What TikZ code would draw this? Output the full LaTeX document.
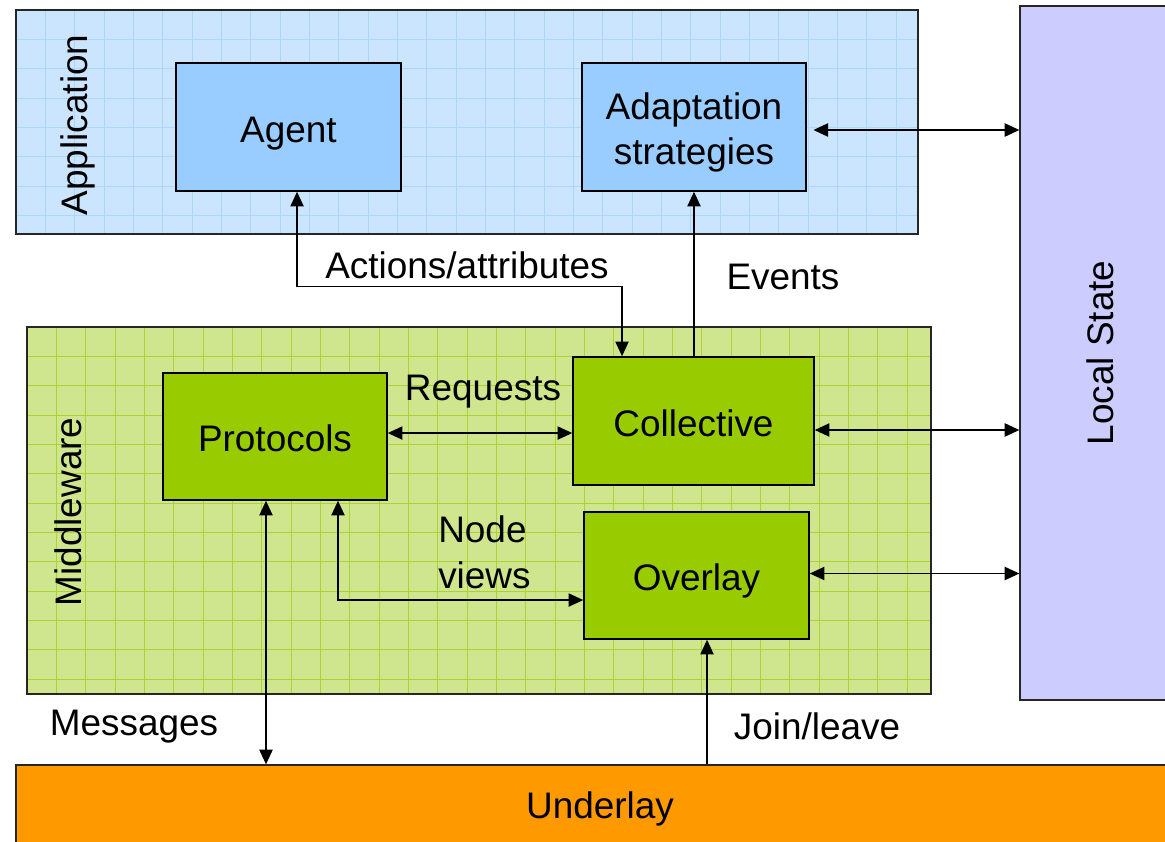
\documentclass[tikz,border=0pt]{standalone}
\usepackage{fontspec}
\setmainfont{Liberation Sans}
\usepackage{xcolor}
\usetikzlibrary{arrows.meta}
\definecolor{app_fill}{HTML}{CCE5FF}
\definecolor{app_grid}{HTML}{ADD6FF}
\definecolor{app_block}{HTML}{99CCFF}
\definecolor{mid_fill}{HTML}{CFE68E}
\definecolor{mid_grid}{HTML}{ABD334}
\definecolor{mid_block}{HTML}{99CC00}
\definecolor{state_fill}{HTML}{CCCCFF}
\definecolor{under_fill}{HTML}{FF9900}

\tikzset{
  layer/.style={draw=black!85, line width=1pt, inner sep=0pt},
  gridded/.style={path picture={
    \foreach \k in {1,...,40}{
      \draw[#1, line width=0.6pt] ([xshift=\k*22pt]path picture bounding box.north west) -- ++(0,-700pt);
      \draw[#1, line width=0.6pt] ([yshift=-\k*22pt]path picture bounding box.north west) -- ++(900pt,0);
    }}},
  block/.style={draw=black, line width=1.2pt, inner sep=0pt, align=center, text height=27.8pt, text depth=5pt},
  link/.style={{Triangle[length=11pt,width=10pt]}-{Triangle[length=11pt,width=10pt]}, line width=1pt},
  uplink/.style={-{Triangle[length=11pt,width=10pt]}, line width=1pt},
  lbl/.style={inner sep=0pt, text height=27.8pt, text depth=5pt}
}

\begin{document}
\begin{tikzpicture}[x=0.75pt, y=-0.75pt, every node/.style={font=\fontsize{27.7}{33.8}\selectfont}]
    \useasboundingbox (0,0) rectangle (1165,842);

    % Layers
    \node[layer, fill=app_fill, gridded=app_grid, minimum width=676.5pt, minimum height=168pt] (app) at (467,122) {};
    \node[layer, fill=mid_fill, gridded=mid_grid, minimum width=678pt, minimum height=275.25pt] (mid) at (479,510.5) {};
    \node[layer, fill=state_fill, minimum width=120pt, minimum height=520.5pt] (state) at (1100,353) {};
    \node[layer, fill=under_fill, minimum width=876pt, minimum height=65.25pt] (under) at (600,808.5) {Underlay};
    \node[rotate=90] (applbl) at (78,125) {Application};
    \node[rotate=90] (midlbl) at (68,512) {Middleware};
    \node[rotate=90] (statelbl) at (1100,353) {Local State};

    % Blocks
    \node[block, fill=app_block, minimum width=168.75pt, minimum height=96pt] (agent) at (288.5,127) {Agent};
    \node[block, fill=app_block, minimum width=168pt, minimum height=96pt, text height=62pt] (adapt) at (694,127) {Adaptation\\strategies};
    \node[block, fill=mid_block, minimum width=168pt, minimum height=95.25pt] (prot) at (275,436.5) {Protocols};
    \node[block, fill=mid_block, minimum width=180.75pt, minimum height=96pt] (coll) at (693.5,421) {Collective};
    \node[block, fill=mid_block, minimum width=168.75pt, minimum height=95.25pt] (ovl) at (696.5,575.5) {Overlay};

    % Connectors
    \draw[link] ([xshift=6.4pt]agent.south) -- ++(0,95) -| ([xshift=-53.6pt]coll.north);
    \draw[uplink] (adapt.south |- coll.north) -- (adapt.south);
    \coordinate (as) at ([yshift=-2.25pt]adapt.east);
    \draw[link, shorten <=5pt] (as) -- (as -| state.west);
    \coordinate (rq) at ([yshift=2.6pt]prot.east);
    \draw[link] (rq) -- (rq -| coll.west);
    \coordinate (cs) at ([yshift=-6.75pt]coll.east);
    \draw[link] (cs) -- (cs -| state.west);
    \coordinate (os) at ([yshift=1.5pt]ovl.east);
    \draw[link] (os) -- (os -| state.west);
    \draw[link] ([xshift=47.25pt]prot.south) |- ([yshift=-18.4pt]ovl.west);
    \coordinate (msg) at ([xshift=-6.75pt]prot.south);
    \draw[link] (msg) -- (msg |- under.north);
    \coordinate (jl) at ([xshift=7.9pt]ovl.south);
    \draw[uplink] (jl |- under.north) -- (jl);

    % Labels
    \node[lbl] (actlbl) at (467,263) {Actions/attributes};
    \node[lbl] (evlbl) at (783,274) {Events};
    \node[lbl] (reqlbl) at (483,385) {Requests};
    \node[lbl, anchor=west, align=left, text height=62pt] (nvlbl) at (438,550) {Node\\views};
    \node[lbl] (msglbl) at (134,720) {Messages};
    \node[lbl] (jllbl) at (817,724) {Join/leave};
\end{tikzpicture}
\end{document}
